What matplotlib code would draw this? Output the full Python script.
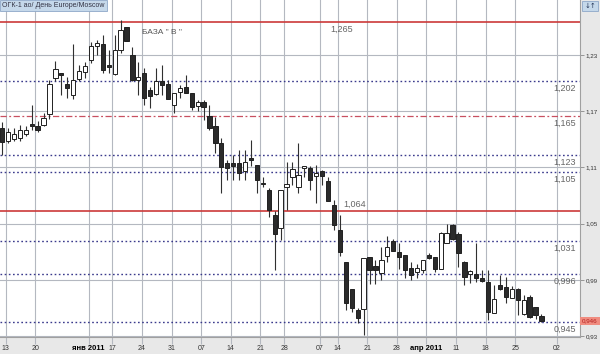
import matplotlib
matplotlib.use('Agg')
import matplotlib.pyplot as plt
import numpy as np

# daily candles, OGK-1, 10 Dec 2010 .. end Apr 2011
opens = [1.152, 1.138, 1.140, 1.141, 1.146, 1.156, 1.154, 1.155, 1.167, 1.205,
         1.211, 1.199, 1.187, 1.204, 1.212, 1.225, 1.240, 1.242, 1.219, 1.210,
         1.235, 1.260, 1.230, 1.203, 1.211, 1.193, 1.188, 1.202, 1.199, 1.177,
         1.191, 1.196, 1.189, 1.176, 1.180, 1.165, 1.154, 1.136, 1.115, 1.115,
         1.115, 1.106, 1.120, 1.113, 1.093, 1.086, 1.059, 1.045, 1.089, 1.100,
         1.089, 1.109, 1.109, 1.101, 1.106, 1.095, 1.070, 1.043, 1.009, 0.980,
         0.958, 0.959, 1.014, 1.005, 0.997, 1.015, 1.031, 1.020, 1.017, 1.003,
         0.998, 1.001, 1.016, 1.014, 1.002, 1.029, 1.049, 1.039, 1.009, 0.996,
         0.996, 0.992, 0.988, 0.955, 0.985, 0.982, 0.971, 0.980, 0.954, 0.972,
         0.961, 0.951]
highs = [1.159, 1.152, 1.152, 1.155, 1.154, 1.177, 1.160, 1.168, 1.203, 1.224,
         1.211, 1.207, 1.242, 1.219, 1.223, 1.244, 1.246, 1.251, 1.235, 1.251,
         1.267, 1.260, 1.239, 1.223, 1.216, 1.196, 1.216, 1.219, 1.203, 1.189,
         1.198, 1.209, 1.189, 1.182, 1.182, 1.177, 1.164, 1.141, 1.118, 1.123,
         1.129, 1.129, 1.139, 1.113, 1.100, 1.088, 1.063, 1.086, 1.116, 1.116,
         1.136, 1.112, 1.111, 1.113, 1.107, 1.100, 1.075, 1.059, 1.009, 0.980,
         0.960, 1.013, 1.014, 1.011, 1.025, 1.037, 1.034, 1.029, 1.017, 1.009,
         1.007, 1.011, 1.019, 1.014, 1.041, 1.050, 1.050, 1.041, 1.010, 1.001,
         1.029, 1.000, 1.000, 0.985, 0.995, 0.993, 0.983, 0.981, 0.974, 0.974,
         0.961, 0.954]
lows = [1.123, 1.136, 1.138, 1.138, 1.144, 1.150, 1.148, 1.154, 1.162, 1.202,
        1.187, 1.184, 1.183, 1.202, 1.205, 1.221, 1.230, 1.211, 1.211, 1.209,
        1.232, 1.245, 1.202, 1.187, 1.177, 1.173, 1.187, 1.187, 1.183, 1.168,
        1.184, 1.189, 1.171, 1.170, 1.161, 1.150, 1.125, 1.083, 1.097, 1.097,
        1.097, 1.097, 1.111, 1.083, 1.089, 1.057, 1.001, 1.033, 1.065, 1.091,
        1.083, 1.100, 1.086, 1.072, 1.091, 1.074, 1.043, 1.015, 0.958, 0.956,
        0.944, 0.931, 0.986, 0.986, 0.990, 1.009, 1.021, 1.002, 0.992, 0.990,
        0.992, 0.997, 1.012, 0.998, 1.002, 1.029, 1.033, 1.004, 0.985, 0.987,
        0.988, 0.988, 0.947, 0.955, 0.979, 0.965, 0.971, 0.953, 0.953, 0.949,
        0.948, 0.945]
closes = [1.137, 1.148, 1.146, 1.150, 1.150, 1.154, 1.150, 1.163, 1.199, 1.215,
          1.209, 1.195, 1.203, 1.213, 1.218, 1.240, 1.243, 1.214, 1.217, 1.235,
          1.257, 1.245, 1.203, 1.206, 1.184, 1.186, 1.202, 1.198, 1.183, 1.189,
          1.195, 1.189, 1.175, 1.180, 1.174, 1.152, 1.136, 1.110, 1.109, 1.112,
          1.104, 1.116, 1.118, 1.097, 1.092, 1.065, 1.039, 1.086, 1.092, 1.108,
          1.102, 1.112, 1.097, 1.104, 1.101, 1.074, 1.049, 1.020, 0.965, 0.960,
          0.949, 1.013, 1.001, 1.000, 1.011, 1.025, 1.021, 1.014, 1.000, 0.995,
          1.003, 1.011, 1.013, 1.002, 1.040, 1.040, 1.034, 1.019, 0.993, 0.999,
          0.992, 0.989, 0.956, 0.970, 0.980, 0.972, 0.980, 0.969, 0.969, 0.950,
          0.953, 0.946]

# candle index of the first bar of each week
tick_idx = [1, 6, 15, 19, 24, 29, 34, 39, 44, 48, 54, 57, 62, 67, 72, 77, 82, 87, 94]
tick_labels = ['13', '20', 'янв 2011', '17', '24', '31', '07', '14', '21', '28',
               '07', '14', '21', '28', 'апр 2011', '11', '18', '25', '02']

price_ticks = [0.93, 0.99, 1.05, 1.11, 1.17, 1.23]
levels = [1.265, 1.202, 1.165, 1.123, 1.105, 1.064, 1.031, 0.996, 0.945]
level_kind = ['red', 'dot', 'dashdot', 'dot', 'dot', 'red', 'dot', 'dot', 'dot']
last_price = 0.946

plt.rcParams['font.family'] = ['Liberation Sans', 'DejaVu Sans']

fig = plt.figure(figsize=(6, 3.54), dpi=100, facecolor='#e8e8e8')
ax = fig.add_axes([0, 17 / 354, 580 / 600, 337 / 354])
ax.set_facecolor('white')

o = np.array(opens)
h = np.array(highs)
l = np.array(lows)
c = np.array(closes)
x = np.arange(len(o))
up = c >= o

ax.vlines(x, l, h, color='#303030', lw=0.8, zorder=3)
ax.bar(x[up], (c - o)[up], bottom=o[up], width=0.72, facecolor='white',
       edgecolor='#202020', lw=0.7, zorder=4)
ax.bar(x[~up], (o - c)[~up], bottom=c[~up], width=0.72, facecolor='#2b2b2b',
       edgecolor='#202020', lw=0.7, zorder=4)

# levels
for lv, kind in zip(levels, level_kind):
    if kind == 'red':
        ax.axhline(lv, color='#cc3a3a', lw=1.2, zorder=2)
    elif kind == 'dashdot':
        ax.axhline(lv, color='#c85060', lw=0.9, ls=(0, (5, 2, 1.5, 2)), zorder=2)
    else:
        ax.axhline(lv, color='#3a3a8c', lw=1.0, ls=(0, (1.2, 1.8)), zorder=2)
    txt = '{:.3f}'.format(lv).replace('.', ',')
    if lv == 1.265:
        ax.annotate(txt, (55.3, lv), xytext=(0, -2), textcoords='offset points',
                    ha='left', va='top', fontsize=6.5, color='#666666')
    elif lv == 1.064:
        ax.annotate(txt, (57.5, lv), xytext=(0, 1), textcoords='offset points',
                    ha='left', va='bottom', fontsize=6.5, color='#666666')
    else:
        ax.annotate(txt, (96.8, lv), xytext=(0, -2), textcoords='offset points',
                    ha='right', va='top', fontsize=6.5, color='#666666')

ax.text(23.6, 1.2545, 'БАЗА " В "', fontsize=6, color='#555555', va='center', ha='left')

ax.set_xlim(-0.34, 97.5)
ax.set_ylim(0.929, 1.2887)

ax.set_xticks([i - 0.4 for i in tick_idx])
ax.set_xticklabels(tick_labels)
ax.set_yticks(price_ticks)
ax.set_yticklabels([('%.2f' % p).replace('.', ',') for p in price_ticks])
ax.yaxis.tick_right()
ax.grid(True, color='#b4b8c0', lw=0.8)
ax.set_axisbelow(True)
ax.tick_params(axis='y', length=3, width=0.6, color='#888888', labelsize=4.5,
               pad=1, labelcolor='#333333')
ax.tick_params(axis='x', length=5, width=0.8, color='#b4b8c0', labelsize=5,
               pad=1, labelcolor='#333333')
for lbl in ax.get_xticklabels():
    if '2011' in lbl.get_text():
        lbl.set_fontweight('bold')
        lbl.set_color('black')
        lbl.set_fontsize(5.5)

for s in ['top', 'left']:
    ax.spines[s].set_visible(False)
for s in ['bottom', 'right']:
    ax.spines[s].set_color('#a0a0a0')
    ax.spines[s].set_linewidth(0.8)

ax.annotate(('%.3f' % last_price).replace('.', ','), xy=(1, last_price),
            xycoords=('axes fraction', 'data'), xytext=(1.5, 0), textcoords='offset points',
            ha='left', va='center', fontsize=4.5, color='#b02020',
            bbox=dict(boxstyle='square,pad=0.3', fc='#f08c80', ec='none'))

fig.text(2 / 600, 1 - 2 / 354, 'ОГК-1 ао/ День Europe/Moscow', fontsize=5, color='#333344',
         ha='left', va='top',
         bbox=dict(boxstyle='square,pad=0.35', fc='#c5d8ea', ec='#8ea8c8', lw=0.6))
fig.text(590 / 600, 1 - 6 / 354, '↓↑', fontsize=5, color='#223355', ha='center', va='center',
         family=['DejaVu Sans'],
         bbox=dict(boxstyle='square,pad=0.3', fc='#c5d8ea', ec='#8ea8c8', lw=0.6))

plt.savefig('out.png', dpi=100, facecolor=fig.get_facecolor())
